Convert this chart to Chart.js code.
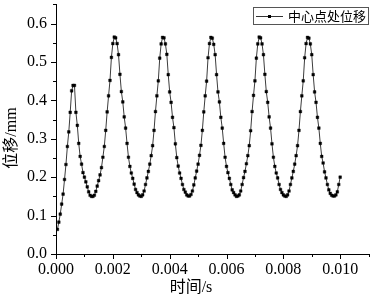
<!DOCTYPE html>
<html>
<head>
<meta charset="utf-8">
<script src="https://cdn.jsdelivr.net/npm/chart.js@4/dist/chart.umd.min.js"></script>
<style>
  html, body { margin: 0; padding: 0; background: #fff; }
  #wrap { width: 373px; height: 296px; position: relative; }
</style>
</head>
<body>
<div id="wrap"><canvas id="c"></canvas></div>
<script>
// 中心点处位移, sampled every 0.00005 s starting at 0.00005 s
const timeStep = 0.00005;
const seriesName = '中心点处位移';
const xTitle = '时间/s';
const yTitle = '位移/mm';
const xTicks = [0, 0.002, 0.004, 0.006, 0.008, 0.010];
const yTicks = [0, 0.1, 0.2, 0.3, 0.4, 0.5, 0.6];
const xMinor = [0.001, 0.003, 0.005, 0.007, 0.009, 0.011];
const yMinor = [0.05, 0.15, 0.25, 0.35, 0.45, 0.55, 0.65];

const dispStart = [
  0.064, 0.083, 0.104, 0.130, 0.156, 0.194, 0.233, 0.280, 0.318, 0.369,
  0.425, 0.439, 0.439, 0.369, 0.335, 0.288, 0.254, 0.234, 0.212, 0.200,
  0.188, 0.175, 0.162, 0.153, 0.150, 0.150,
  0.153, 0.163, 0.177, 0.191, 0.206, 0.225, 0.252, 0.280, 0.322, 0.370,
  0.412, 0.452, 0.512, 0.548
];
const dispCycle1 = [
  0.565, 0.563, 0.548, 0.519, 0.468, 0.423, 0.396, 0.357, 0.328, 0.288,
  0.252, 0.228, 0.211, 0.197, 0.182, 0.168, 0.160, 0.154, 0.151, 0.150,
  0.154, 0.164, 0.181, 0.198, 0.215, 0.234, 0.256, 0.282, 0.322, 0.371,
  0.412, 0.451, 0.510, 0.547
];
const dispCycle2 = [
  0.564, 0.563, 0.547, 0.520, 0.467, 0.422, 0.395, 0.356, 0.329, 0.287,
  0.251, 0.229, 0.211, 0.197, 0.181, 0.168, 0.161, 0.154, 0.151, 0.151,
  0.155, 0.164, 0.180, 0.198, 0.216, 0.234, 0.257, 0.283, 0.322, 0.370,
  0.412, 0.450, 0.511, 0.548
];
const dispCycle3 = [
  0.564, 0.562, 0.546, 0.519, 0.467, 0.422, 0.396, 0.356, 0.328, 0.288,
  0.252, 0.228, 0.212, 0.197, 0.181, 0.167, 0.160, 0.154, 0.150, 0.151,
  0.154, 0.164, 0.181, 0.199, 0.215, 0.235, 0.256, 0.282, 0.321, 0.371,
  0.413, 0.451, 0.510, 0.547
];
const dispCycle4 = [
  0.565, 0.563, 0.547, 0.519, 0.468, 0.423, 0.395, 0.357, 0.328, 0.287,
  0.252, 0.228, 0.211, 0.198, 0.181, 0.168, 0.160, 0.154, 0.151, 0.150,
  0.154, 0.164, 0.181, 0.198, 0.215, 0.234, 0.256, 0.282, 0.322, 0.371,
  0.412, 0.451, 0.511, 0.548
];
const dispEnd = [
  0.564, 0.562, 0.547, 0.519, 0.467, 0.422, 0.395, 0.356, 0.328, 0.288,
  0.254, 0.237, 0.214, 0.198, 0.181, 0.167, 0.158, 0.153, 0.151, 0.151,
  0.154, 0.162, 0.181, 0.200
];

const disp = [].concat(dispStart, dispCycle1, dispCycle2, dispCycle3, dispCycle4, dispEnd);
const points = disp.map((v, i) => ({ x: (i + 1) * timeStep, y: v }));

const serif = "'Liberation Serif', 'Times New Roman', serif";
const cjk = "'Liberation Serif', 'Noto Sans CJK SC', serif";

// tick marks, axis titles and the boxed legend
const decor = {
  id: 'decor',
  afterDraw(chart) {
    const { ctx, scales: { x, y } } = chart;
    const x0 = x.left, yb = y.bottom;
    ctx.save();
    ctx.strokeStyle = '#000';
    ctx.lineWidth = 1;
    ctx.beginPath();
    xTicks.forEach(v => { const p = Math.round(x.getPixelForValue(v)) + 0.5; ctx.moveTo(p, yb); ctx.lineTo(p, yb + 5); });
    xMinor.forEach(v => { const p = Math.round(x.getPixelForValue(v)) + 0.5; ctx.moveTo(p, yb); ctx.lineTo(p, yb + 3); });
    yTicks.forEach(v => { const p = Math.round(y.getPixelForValue(v)) + 0.5; ctx.moveTo(x0, p); ctx.lineTo(x0 - 5, p); });
    yMinor.forEach(v => { const p = Math.round(y.getPixelForValue(v)) + 0.5; ctx.moveTo(x0, p); ctx.lineTo(x0 - 3, p); });
    ctx.stroke();

    ctx.fillStyle = '#000';
    ctx.font = '16px ' + cjk;
    ctx.textAlign = 'center';
    ctx.textBaseline = 'middle';
    ctx.fillText(xTitle, 191, 288);
    ctx.save();
    ctx.translate(12, 138);
    ctx.rotate(-Math.PI / 2);
    ctx.fillText(yTitle, 0, 0);
    ctx.restore();

    // legend
    ctx.strokeStyle = '#555';
    ctx.strokeRect(253.5, 7.5, 115, 17);
    ctx.strokeStyle = '#333';
    ctx.beginPath();
    ctx.moveTo(256, 16.5); ctx.lineTo(283, 16.5);
    ctx.stroke();
    ctx.fillStyle = '#000';
    ctx.fillRect(268, 15, 3, 3);
    ctx.font = "13px 'Noto Sans CJK SC', sans-serif";
    ctx.textAlign = 'left';
    ctx.fillText(seriesName, 288, 16.5);
    ctx.restore();
  }
};

new Chart(document.getElementById('c'), {
  type: 'scatter',
  data: {
    datasets: [{
      label: seriesName,
      data: points,
      showLine: true,
      borderColor: '#3c3c3c',
      borderWidth: 1,
      tension: 0,
      pointStyle: 'rect',
      pointRadius: 1.9,
      pointBorderWidth: 0.4,
      pointBackgroundColor: '#000',
      pointBorderColor: '#000',
    }],
  },
  options: {
    responsive: true, maintainAspectRatio: false, animation: false,
    layout: { padding: { top: 0, right: 3, left: 0, bottom: 0 } },
    plugins: { legend: { display: false }, tooltip: { enabled: false } },
    scales: {
      x: {
        type: 'linear', min: 0, max: 0.011,
        grid: { display: false, drawTicks: false },
        border: { display: true, color: '#000', width: 1 },
        afterBuildTicks: s => { s.ticks = xTicks.map(v => ({ value: v })); },
        afterFit: s => { s.height = 42; s.paddingLeft = 0; s.paddingRight = 0; },
        ticks: { color: '#000', padding: 6, maxRotation: 0, autoSkip: false,
          font: { family: serif, size: 16 }, callback: v => v.toFixed(3) },
      },
      y: {
        type: 'linear', min: 0, max: 0.65,
        grid: { display: false, drawTicks: false },
        border: { display: true, color: '#000', width: 1 },
        afterBuildTicks: s => { s.ticks = yTicks.map(v => ({ value: v })); },
        afterFit: s => { s.width = 56; s.paddingTop = 0; s.paddingBottom = 0; },
        ticks: { color: '#000', padding: 9, autoSkip: false,
          font: { family: serif, size: 16 }, callback: v => v.toFixed(1) },
      },
    },
  },
  plugins: [decor],
});
</script>
</body>
</html>
